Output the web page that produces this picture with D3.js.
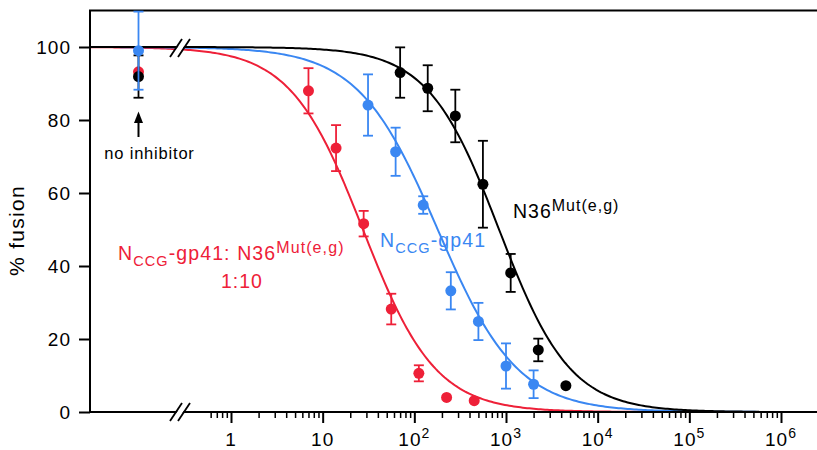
<!DOCTYPE html>
<html>
<head>
<meta charset="utf-8">
<script src="https://cdn.jsdelivr.net/npm/d3@7"></script>
<style>
  body { margin: 0; background: #fff; }
  text { font-family: "Liberation Sans", Arial, Helvetica, sans-serif; }
</style>
</head>
<body>
<div id="chart"></div>
<script>
// ===== data =====
// concentrations (x), % fusion (y) and half error bars
var redConc  = [7, 14, 28, 56, 112, 225, 450]
var redFus   = [88.0, 72.3, 51.6, 28.2, 10.6, 4.0, 3.1]
var redErr   = [6.2, 6.3, 3.5, 4.2, 2.2, 0, 0]

var blueConc = [31.25, 62.5, 125, 250, 500, 1000, 2000]
var blueFus  = [84.1, 71.3, 56.7, 33.2, 24.8, 12.6, 7.6]
var blueErr  = [8.4, 6.6, 2.4, 5.1, 5.1, 6.2, 3.8]

var blackConc = [70, 140, 280, 560, 1125, 2250, 4500]
var blackFus  = [93.0, 88.7, 81.1, 62.4, 38.1, 17.0, 7.2]
var blackErr  = [6.9, 6.3, 7.2, 11.9, 5.2, 3.1, 0]

// no inhibitor controls: red, black, blue
var ctrlFus = [93.2, 91.9, 99.0]
var ctrlErr = [0, 5.8, 10.7]

// fitted curves (IC50, hill slope): red, blue, black
var fitIC50 = [27.5, 180, 840]
var fitHill = [1.1, 1.0, 1.12]

var yTicks = [0, 20, 40, 60, 80, 100]
var xMajor = [1, 10, 100, 1000, 10000, 100000, 1000000]
var xExp   = ["", "", "2", "3", "4", "5", "6"]

var colRed = "#ee2038", colBlue = "#3a87f2", colBlack = "#000"

var W = 817, H = 450
var padL = 90, padT = 10.5, padB = 412

var svg = d3.select("#chart")
    .append("svg")
    .attr("width", W)
    .attr("height", H)

svg.append("rect").attr("width", W).attr("height", H).attr("fill", "white")

var x = d3.scaleLog().domain([1, 1e6]).range([231, 781])
var y = d3.scaleLinear().domain([0, 100]).range([padB, 47])
var xCtrl = d3.scalePoint().domain(["none"]).range([padL, 187]).padding(0.5)

svg.append("clipPath").attr("id", "plot")
    .append("rect")
    .attr("x", padL).attr("y", padT)
    .attr("width", W - padL + 20).attr("height", padB - padT)

// ===== curves =====
var xs = d3.range(0, 301).map(function(i){
    return Math.pow(10, Math.log10(x.invert(padL)) + i * (7.3 / 300))
})
var line = d3.line()
    .x(function(d){ return x(d[0]) })
    .y(function(d){ return y(d[1]) })

var curveCols = [colRed, colBlue, colBlack]
curveCols.forEach(function(c, i){
    var pts = xs.map(function(v){
        return [v, 100 / (1 + Math.pow(v / fitIC50[i], fitHill[i]))]
    })
    svg.append("path")
        .attr("clip-path", "url(#plot)")
        .attr("d", line(pts))
        .attr("fill", "none")
        .attr("stroke", c)
        .attr("stroke-width", 2)
})

// ===== frame =====
svg.append("path")
    .attr("d", "M" + (W + 5) + "," + padT + "H" + padL + "V" + padB + "H" + (W + 5))
    .attr("fill", "none")
    .attr("stroke", "black")
    .attr("stroke-width", 2)

// y axis
var yAxis = svg.append("g")
    .attr("transform", "translate(" + padL + ",0)")
    .call(d3.axisLeft(y).tickValues(yTicks).tickSize(11).tickPadding(8))
yAxis.select(".domain").remove()
yAxis.selectAll("line").attr("stroke-width", 2)
yAxis.selectAll("text")
    .attr("font-size", "19px")
    .attr("letter-spacing", "1px")
    .attr("fill", "black")
    .style("font-family", "'Liberation Sans', Arial, sans-serif")

// x axis: minor then major ticks
var xMinor = [0.6, 0.7, 0.8, 0.9]
xMajor.slice(0, 6).forEach(function(m){
    for (var k = 2; k <= 9; k++) xMinor.push(m * k)
})
var xAxisMinor = svg.append("g")
    .attr("transform", "translate(0," + padB + ")")
    .call(d3.axisBottom(x).tickValues(xMinor).tickSize(6).tickFormat(""))
xAxisMinor.select(".domain").remove()
xAxisMinor.selectAll("line").attr("stroke-width", 1.5)

var xAxisMajor = svg.append("g")
    .attr("transform", "translate(0," + padB + ")")
    .call(d3.axisBottom(x).tickValues(xMajor).tickSize(11).tickFormat(""))
xAxisMajor.select(".domain").remove()
xAxisMajor.selectAll("line").attr("stroke-width", 2)

xMajor.forEach(function(v, i){
    var t = svg.append("text")
        .attr("x", x(v))
        .attr("y", 446)
        .attr("text-anchor", "middle")
        .attr("font-size", "19px")
        .attr("letter-spacing", "1px")
    if (xExp[i] == "") {
        t.text(String(v))
    } else {
        t.append("tspan").text("10")
        t.append("tspan").text(xExp[i]).attr("font-size", "14px").attr("dy", -8)
    }
})

// axis breaks
function axisBreak(cx, cy){
    var g = svg.append("g").attr("transform", "translate(" + cx + "," + cy + ")")
    g.append("polygon")
        .attr("points", "-9,9 3,-9 9,-9 -3,9")
        .attr("fill", "white")
    g.append("line").attr("x1", -10).attr("y1", 9).attr("x2", 2).attr("y2", -9)
        .attr("stroke", "black").attr("stroke-width", 1.8)
    g.append("line").attr("x1", -2).attr("y1", 9).attr("x2", 10).attr("y2", -9)
        .attr("stroke", "black").attr("stroke-width", 1.8)
}
axisBreak(180, y(100) + 1)
axisBreak(180, padB)

// ===== points with error bars =====
function series(conc, fus, err, col){
    var data = conc.map(function(c, i){ return {x: x(c), y: fus[i], e: err[i]} })
    drawPoints(data, col)
}
function drawPoints(data, col){
    var g = svg.append("g")
    data.forEach(function(d){
        if (d.e > 0) {
            g.append("line").attr("x1", d.x).attr("x2", d.x)
                .attr("y1", y(d.y - d.e)).attr("y2", y(d.y + d.e))
                .attr("stroke", col).attr("stroke-width", 1.8)
            ;[d.y - d.e, d.y + d.e].forEach(function(v){
                g.append("line").attr("x1", d.x - 5).attr("x2", d.x + 5)
                    .attr("y1", y(v)).attr("y2", y(v))
                    .attr("stroke", col).attr("stroke-width", 1.8)
            })
        }
        g.append("circle").attr("cx", d.x).attr("cy", y(d.y)).attr("r", 5.5).attr("fill", col)
    })
}

series(redConc, redFus, redErr, colRed)
series(blueConc, blueFus, blueErr, colBlue)
series(blackConc, blackFus, blackErr, colBlack)

// no inhibitor controls
var ctrlCols = [colRed, colBlack, colBlue]
ctrlFus.forEach(function(v, i){
    drawPoints([{x: xCtrl("none"), y: v, e: ctrlErr[i]}], ctrlCols[i])
})

// arrow + label
var ax = xCtrl("none")
svg.append("line").attr("x1", ax).attr("x2", ax).attr("y1", 137).attr("y2", 120)
    .attr("stroke", "black").attr("stroke-width", 2)
svg.append("polygon")
    .attr("points", ax + ",111.5 " + (ax - 4.5) + ",123 " + (ax + 4.5) + ",123")
    .attr("fill", "black")
svg.append("text")
    .attr("x", 149.5).attr("y", 159)
    .attr("text-anchor", "middle")
    .attr("font-size", "16.5px")
    .attr("letter-spacing", "0.8px")
    .text("no inhibitor")

// y label
svg.append("text")
    .attr("transform", "translate(23.5,230.5) rotate(-90)")
    .attr("text-anchor", "middle")
    .attr("font-size", "21px")
    .attr("letter-spacing", "1.3px")
    .text("% fusion")

// ===== series labels =====
function nccg(t){
    t.append("tspan").text("N")
    t.append("tspan").text("CCG").attr("font-size", "14.5px").attr("dy", 6)
}
function mut(t){
    t.append("tspan").text("Mut(e,g)").attr("font-size", "16px").attr("dy", -7)
}

var tRed = svg.append("text").attr("x", 118).attr("y", 260)
    .attr("fill", colRed).attr("font-size", "19.5px").attr("letter-spacing", "1.1px")
nccg(tRed)
tRed.append("tspan").text("-gp41: N36").attr("dy", -6)
mut(tRed)
svg.append("text").attr("x", 242).attr("y", 288).attr("text-anchor", "middle")
    .attr("fill", colRed).attr("font-size", "19.5px").attr("letter-spacing", "1px")
    .text("1:10")

var tBlue = svg.append("text").attr("x", 380).attr("y", 247)
    .attr("fill", colBlue).attr("font-size", "19.5px").attr("letter-spacing", "1.1px")
nccg(tBlue)
tBlue.append("tspan").text("-gp41").attr("dy", -6)

var tBlack = svg.append("text").attr("x", 513).attr("y", 218)
    .attr("fill", colBlack).attr("font-size", "19.5px").attr("letter-spacing", "1px")
tBlack.append("tspan").text("N36")
mut(tBlack)
</script>
</body>
</html>
